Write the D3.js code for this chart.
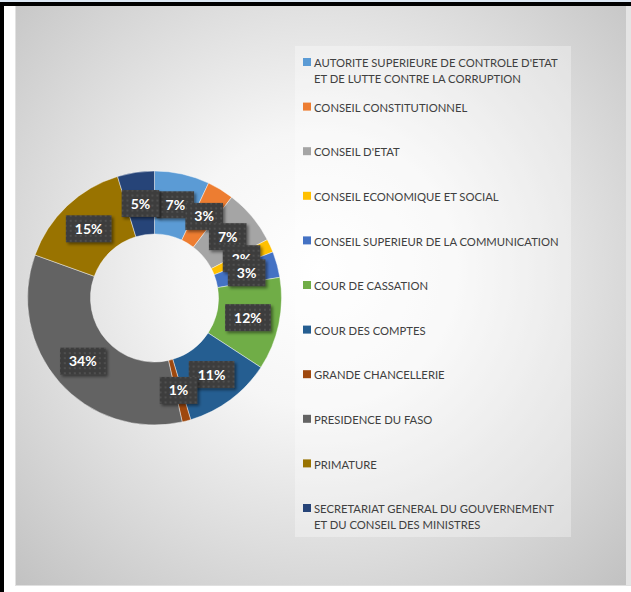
<!DOCTYPE html>
<html>
<head>
<meta charset="utf-8">
<script src="https://cdn.jsdelivr.net/npm/d3@7"></script>
<style>
  html, body { margin: 0; padding: 0; background: #ffffff; }
  svg { display: block; }
</style>
</head>
<body>
<svg id="chart" width="631" height="592"></svg>
<script>
// ---- data ----
const categories = [
  "AUTORITE SUPERIEURE DE CONTROLE D'ETAT ET DE LUTTE CONTRE LA CORRUPTION",
  "CONSEIL CONSTITUTIONNEL",
  "CONSEIL D'ETAT",
  "CONSEIL ECONOMIQUE ET SOCIAL",
  "CONSEIL SUPERIEUR DE LA COMMUNICATION",
  "COUR DE CASSATION",
  "COUR DES COMPTES",
  "GRANDE CHANCELLERIE",
  "PRESIDENCE DU FASO",
  "PRIMATURE",
  "SECRETARIAT GENERAL DU GOUVERNEMENT ET DU CONSEIL DES MINISTRES"
];
const values = [7.0, 3.4, 7.0, 1.7, 3.3, 11.8, 11.2, 1.1, 34.0, 14.8, 4.7];
const colors = ["#5B9BD5", "#ED7D31", "#A5A5A5", "#FFC000", "#4472C4", "#70AD47",
                "#255E91", "#9E480E", "#636363", "#997300", "#264478"];

// ---- layout ----
const W = 631, H = 592;
const svg = d3.select("#chart");
const defs = svg.append("defs");

// frame
svg.append("rect").attr("x", 0).attr("y", 0).attr("width", W).attr("height", 2).attr("fill", "#dde8f4");
svg.append("rect").attr("x", 0).attr("y", 2).attr("width", W).attr("height", 4).attr("fill", "#000");
svg.append("rect").attr("x", 0).attr("y", 2).attr("width", 4).attr("height", H).attr("fill", "#000");

// chart area background (radial gradient)
const bg = defs.append("radialGradient").attr("id", "bg")
  .attr("gradientUnits", "userSpaceOnUse")
  .attr("cx", 320).attr("cy", 270).attr("r", 460);
bg.append("stop").attr("offset", 0).attr("stop-color", "#ffffff");
bg.append("stop").attr("offset", 0.3).attr("stop-color", "#f6f6f6");
bg.append("stop").attr("offset", 1).attr("stop-color", "#bebebe");
svg.append("rect").attr("x", 15).attr("y", 6).attr("width", 611).attr("height", 579)
  .attr("fill", "url(#bg)");
svg.append("rect").attr("x", 15).attr("y", 6).attr("width", 1).attr("height", 579).attr("fill", "#e2e2e2");
svg.append("rect").attr("x", 626).attr("y", 6).attr("width", 5).attr("height", 579).attr("fill", "#e4e4e4");
svg.append("rect").attr("x", 15).attr("y", 585).attr("width", 616).attr("height", 1).attr("fill", "#e0e0e0");

// legend background
svg.append("rect").attr("x", 295).attr("y", 46).attr("width", 276).attr("height", 491)
  .attr("fill", "#ffffff").attr("fill-opacity", 0.32);

// ---- donut ----
const cx = 154.5, cy = 298, rOuter = 127, rInner = 64;
const total = d3.sum(values);
const pie = d3.pie().sort(null).value(d => d)(values);
const arc = d3.arc().innerRadius(rInner).outerRadius(rOuter);
const labelArc = d3.arc().innerRadius((rInner + rOuter) / 2).outerRadius((rInner + rOuter) / 2);

const g = svg.append("g").attr("transform", `translate(${cx},${cy})`);
g.selectAll("path.slice").data(pie).join("path")
  .attr("class", "slice")
  .attr("d", arc)
  .attr("fill", (d, i) => colors[i])
  .attr("stroke", "#ffffff").attr("stroke-opacity", 0.55).attr("stroke-width", 0.8);

// label box texture + shadow
const pat = defs.append("pattern").attr("id", "tex").attr("patternUnits", "userSpaceOnUse")
  .attr("width", 5).attr("height", 5);
pat.append("rect").attr("width", 5).attr("height", 5).attr("fill", "#3d3d3d");
pat.append("rect").attr("x", 1).attr("y", 1).attr("width", 2).attr("height", 2).attr("fill", "#4f4f4f");
const sh = defs.append("filter").attr("id", "sh").attr("x", "-30%").attr("y", "-30%").attr("width", "160%").attr("height", "160%");
sh.append("feDropShadow").attr("dx", 2).attr("dy", 2).attr("stdDeviation", 1.5)
  .attr("flood-color", "#000").attr("flood-opacity", 0.45);

const fmt = d3.format(".0%");
const labels = g.selectAll("g.lab").data(pie).join("g").attr("class", "lab")
  .attr("transform", d => `translate(${labelArc.centroid(d)})`);
labels.each(function(d) {
  const sel = d3.select(this);
  const txt = fmt(d.value / total);
  const t = sel.append("text")
    .attr("text-anchor", "middle").attr("dy", "0.36em")
    .attr("font-family", "Lato, 'Open Sans', sans-serif").attr("font-weight", 700)
    .attr("font-size", 14).attr("fill", "#ffffff").text(txt);
  const w = t.node().getComputedTextLength() + 18;
  const h = 27;
  sel.insert("rect", "text").attr("x", -w / 2).attr("y", -h / 2).attr("width", w).attr("height", h)
    .attr("fill", "url(#tex)").attr("filter", "url(#sh)");
});

// ---- legend ----
const legX = 303, legY0 = 62, legStep = 44.6, lineH = 15.5;
const sx = 0.94, maxW = 252 / sx, tx = legX + 11;
const leg = svg.append("g");
categories.forEach((name, i) => {
  const y = legY0 + i * legStep;
  leg.append("rect").attr("x", legX).attr("y", y - 4).attr("width", 8).attr("height", 8)
    .attr("fill", colors[i]);
  const t = leg.append("text")
    .attr("transform", `translate(${tx},0) scale(${sx},1)`)
    .attr("font-family", "Lato, 'Open Sans', sans-serif").attr("font-size", 12)
    .attr("fill", "#404040").attr("dominant-baseline", "central");
  const words = name.split(" ");
  let line = [], lineNo = 0;
  let ts = t.append("tspan").attr("x", 0).attr("y", y);
  words.forEach(wd => {
    line.push(wd);
    ts.text(line.join(" "));
    if (ts.node().getComputedTextLength() > maxW && line.length > 1) {
      line.pop();
      ts.text(line.join(" "));
      line = [wd];
      lineNo++;
      ts = t.append("tspan").attr("x", 0).attr("y", y + lineNo * lineH).text(wd);
    }
  });
});
</script>
</body>
</html>
